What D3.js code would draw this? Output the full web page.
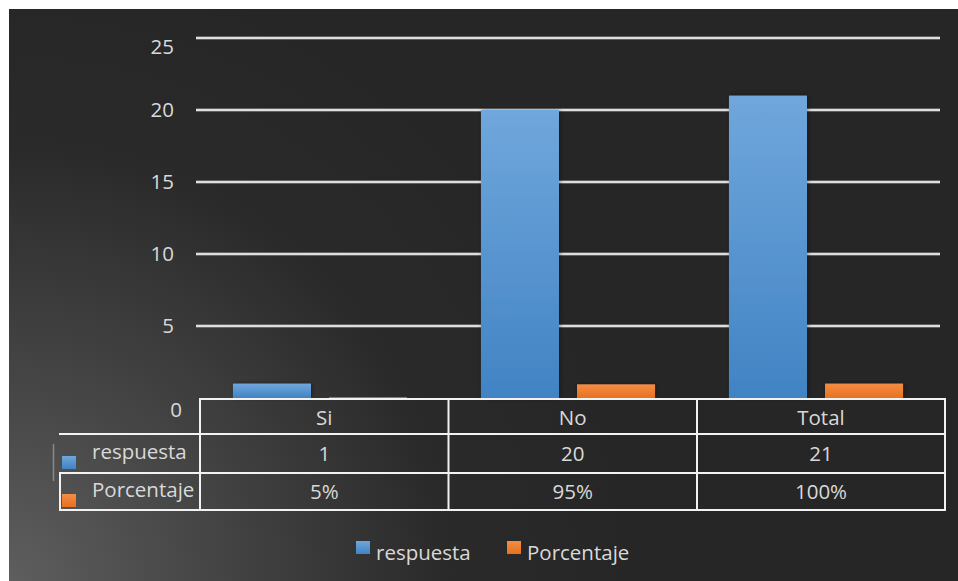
<!DOCTYPE html>
<html>
<head>
<meta charset="utf-8">
<script src="https://cdn.jsdelivr.net/npm/d3@7"></script>
<style>
html,body{margin:0;padding:0;background:#ffffff;}
svg{display:block;}
text{font-family:"Open Sans","Noto Sans",sans-serif;}
</style>
</head>
<body>
<svg id="chart" width="958" height="581"></svg>
<script>
// ---- data ----
const categories = ["Si", "No", "Total"];
const seriesNames = ["respuesta", "Porcentaje"];
const respuesta = [1, 20, 21];
const porcentaje = [0.05, 0.95, 1.0];
const porcentajeLabels = ["5%", "95%", "100%"];
const respuestaLabels = ["1", "20", "21"];
const yTicks = [0, 5, 10, 15, 20, 25];
const seriesColors = {
  respuesta: ["#70a7dc", "#4183c4"],
  Porcentaje: ["#f28d46", "#e8711e"]
};

const svg = d3.select("#chart");
const W = 958, H = 581;
const FS = 20.5;

// ---- background ----
const defs = svg.append("defs");
const bg = defs.append("radialGradient").attr("id", "bg")
  .attr("gradientUnits", "userSpaceOnUse")
  .attr("cx", 9).attr("cy", 581).attr("r", 620);
bg.append("stop").attr("offset", "0").attr("stop-color", "#5e5e5e");
bg.append("stop").attr("offset", "0.3").attr("stop-color", "#474747");
bg.append("stop").attr("offset", "0.7").attr("stop-color", "#2a2a2a");
bg.append("stop").attr("offset", "1").attr("stop-color", "#262626");
svg.append("rect").attr("x", 9).attr("y", 9).attr("width", W - 9).attr("height", H - 9)
  .attr("fill", "url(#bg)");

seriesNames.forEach((s, i) => {
  const g = defs.append("linearGradient").attr("id", "g" + i)
    .attr("x1", 0).attr("y1", 0).attr("x2", 0).attr("y2", 1);
  g.append("stop").attr("offset", "0").attr("stop-color", seriesColors[s][0]);
  g.append("stop").attr("offset", "1").attr("stop-color", seriesColors[s][1]);
});
const sh = defs.append("filter").attr("id", "shadow").attr("x", "-20%").attr("y", "-20%").attr("width", "140%").attr("height", "140%");
sh.append("feDropShadow").attr("dx", 1).attr("dy", 0).attr("stdDeviation", 2)
  .attr("flood-color", "#000").attr("flood-opacity", 0.4);

// ---- scales ----
const plotLeft = 196, plotRight = 940, plotTop = 38, plotBottom = 398;
const y = d3.scaleLinear().domain([0, 25]).range([plotBottom, plotTop]);
const x0 = d3.scaleBand().domain(categories).range([plotLeft, plotRight]).padding(0);
const x1 = d3.scaleBand().domain(seriesNames).range([0, x0.bandwidth()])
  .paddingInner(0.1875).paddingOuter(0.385);

const textColor = "#d9d9d9";

// ---- gridlines ----
const grid = svg.append("g");
grid.selectAll("line.g1").data(yTicks.filter(t => t > 0)).join("line")
  .attr("x1", plotLeft).attr("x2", plotRight)
  .attr("y1", d => y(d)).attr("y2", d => y(d))
  .attr("stroke", "#9a9a9a").attr("stroke-width", 3);
grid.selectAll("line.g2").data(yTicks.filter(t => t > 0)).join("line")
  .attr("x1", plotLeft).attr("x2", plotRight)
  .attr("y1", d => y(d)).attr("y2", d => y(d))
  .attr("stroke", "#f4f4f4").attr("stroke-width", 1.6);

// ---- y axis ----
const yAxis = d3.axisLeft(y).tickValues(yTicks).tickSize(0).tickPadding(0);
const ya = svg.append("g").attr("transform", "translate(174,0)").call(yAxis);
ya.select(".domain").remove();
ya.selectAll("text").attr("fill", textColor).attr("font-size", FS)
  .attr("font-family", "'Open Sans', sans-serif")
  .attr("dy", d => d === 25 ? "0.75em" : (d === 0 ? "0.9em" : "0.34em"))
  .attr("dx", d => d === 0 ? 8 : 0);

// ---- bars ----
const data = categories.map((c, i) => ({cat: c, vals: [respuesta[i], porcentaje[i]]}));
const bars = svg.append("g");
data.forEach(d => {
  seriesNames.forEach((s, j) => {
    const v = d.vals[j];
    bars.append("rect")
      .attr("x", x0(d.cat) + x1(s))
      .attr("y", y(v))
      .attr("width", x1.bandwidth())
      .attr("height", y(0) - y(v))
      .attr("fill", "url(#g" + j + ")")
      .attr("filter", (y(0) - y(v)) > 3 ? "url(#shadow)" : null);
  });
});

// ---- data table ----
const tbl = svg.append("g");
const colEdges = [200, 448.5, 697, 945];
const rowEdges = [399, 434, 473, 510];
const lineColor = "#f2f2f2";
const lw = 2;
tbl.append("line").attr("x1", 199).attr("x2", 946).attr("y1", rowEdges[0]).attr("y2", rowEdges[0]);
[1, 2, 3].forEach(r => {
  tbl.append("line").attr("x1", 59).attr("x2", 946).attr("y1", rowEdges[r]).attr("y2", rowEdges[r]);
});
colEdges.forEach(cx => {
  tbl.append("line").attr("x1", cx).attr("x2", cx).attr("y1", rowEdges[0]).attr("y2", rowEdges[3]);
});
tbl.append("line").attr("x1", 60).attr("x2", 60).attr("y1", rowEdges[2]).attr("y2", rowEdges[3]);
tbl.selectAll("line").attr("stroke", lineColor).attr("stroke-width", lw);
tbl.append("line").attr("x1", 53.5).attr("x2", 53.5).attr("y1", 444).attr("y2", 481)
  .attr("stroke", "#8a8a8a").attr("stroke-width", 1.5);

const colCenter = i => (colEdges[i] + colEdges[i + 1]) / 2;
const rowCenter = r => (rowEdges[r] + rowEdges[r + 1]) / 2;
const cellText = (txt, cx, cy, anchor) => tbl.append("text")
  .attr("x", cx).attr("y", cy).attr("dy", "0.35em")
  .attr("text-anchor", anchor || "middle")
  .attr("fill", textColor).attr("font-size", FS).text(txt);

categories.forEach((c, i) => cellText(c, colCenter(i), rowCenter(0) + 1));
respuestaLabels.forEach((t, i) => cellText(t, colCenter(i), rowCenter(1)));
porcentajeLabels.forEach((t, i) => cellText(t, colCenter(i), rowCenter(2)));

seriesNames.forEach((s, j) => {
  const ry = [456, 494][j];
  tbl.append("rect").attr("x", 62).attr("y", ry).attr("width", 14).attr("height", 13)
    .attr("fill", "url(#g" + j + ")");
  cellText(s, 92, [452, 490][j], "start");
});

// ---- legend ----
const legend = svg.append("g");
const legX = [356, 507];
seriesNames.forEach((s, j) => {
  legend.append("rect").attr("x", legX[j]).attr("y", 541).attr("width", 14).attr("height", 13)
    .attr("fill", "url(#g" + j + ")");
  legend.append("text").attr("x", legX[j] + 20).attr("y", 553).attr("dy", "0.35em")
    .attr("fill", textColor).attr("font-size", FS).text(s);
});
</script>
</body>
</html>
